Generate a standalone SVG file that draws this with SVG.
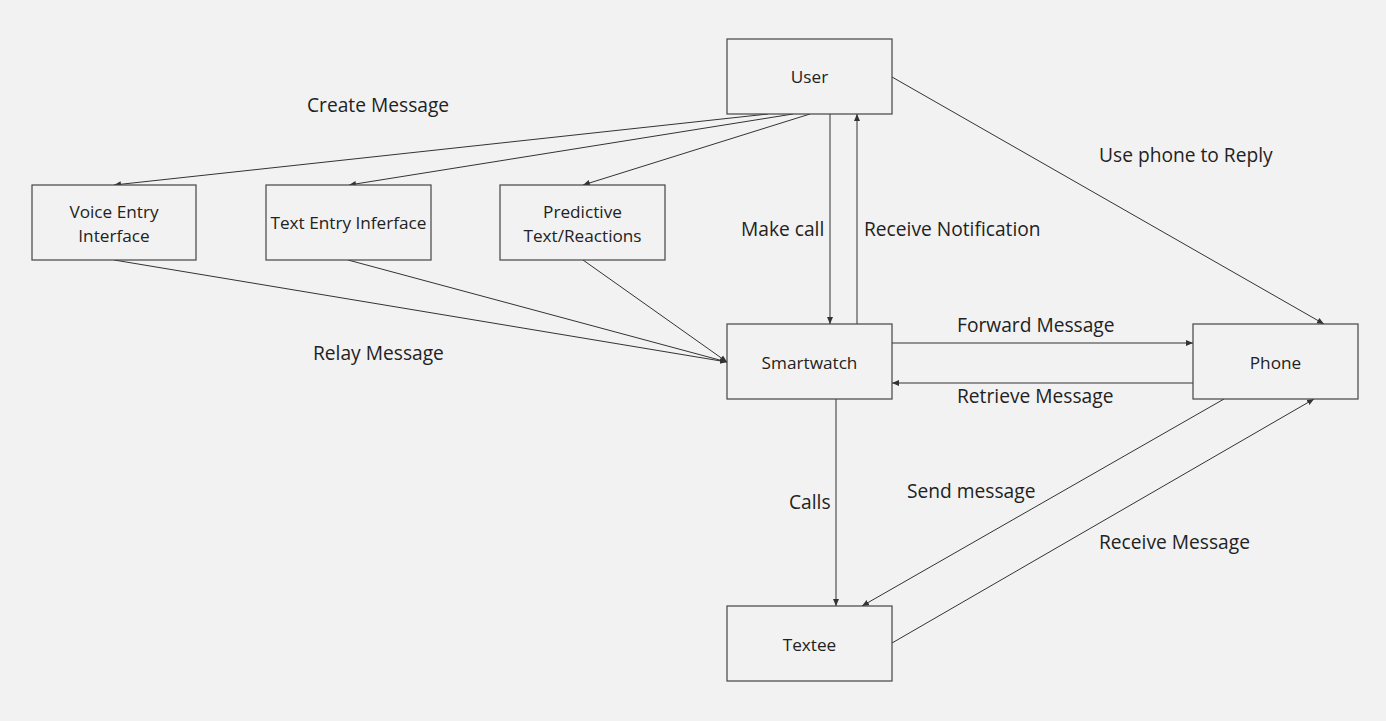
<svg xmlns="http://www.w3.org/2000/svg" width="1386" height="721" viewBox="0 0 1386 721">
<defs>
<marker id="ah" markerWidth="8" markerHeight="8" refX="7" refY="4" orient="auto" markerUnits="userSpaceOnUse">
<path d="M0,1 L7,4 L0,7 Z" fill="#333"/>
</marker>
<style>
.n rect{fill:#f2f2f2;stroke:#444;stroke-width:1.2}
.n text{font-family:"Open Sans","Noto Sans",sans-serif;font-size:17.2px;fill:#222;text-anchor:middle}
.c line{stroke:#333;stroke-width:1;marker-end:url(#ah)}
.l{font-family:"Open Sans","Noto Sans",sans-serif;font-size:19.2px;fill:#222}
</style>
</defs>
<rect width="1386" height="721" fill="#f2f2f2"/>
<g class="c" id="connectors">
<line x1="768" y1="114" x2="114" y2="185"/>
<line x1="793" y1="114" x2="349" y2="185"/>
<line x1="810" y1="114" x2="583" y2="185"/>
<line x1="830" y1="114" x2="830" y2="324"/>
<line x1="857" y1="324" x2="857" y2="114"/>
<line x1="892" y1="77" x2="1324" y2="324"/>
<line x1="114" y1="260" x2="727" y2="362"/>
<line x1="348" y1="260" x2="727" y2="362"/>
<line x1="583" y1="260" x2="727" y2="362"/>
<line x1="892" y1="343" x2="1193" y2="343"/>
<line x1="1193" y1="383" x2="892" y2="383"/>
<line x1="836" y1="399" x2="836" y2="606"/>
<line x1="1224" y1="399" x2="862" y2="606"/>
<line x1="892" y1="643" x2="1314" y2="399"/>
</g>
<g class="n" id="user"><rect x="727" y="39" width="165" height="75"/><text x="809.5" y="83">User</text></g>
<g class="n" id="voice"><rect x="32" y="185" width="164" height="75"/><text x="114" y="218">Voice Entry</text><text x="114" y="242">Interface</text></g>
<g class="n" id="textentry"><rect x="266" y="185" width="165" height="75"/><text x="348.5" y="229">Text Entry Inferface</text></g>
<g class="n" id="predictive"><rect x="500" y="185" width="165" height="75"/><text x="582.5" y="218">Predictive</text><text x="582.5" y="242">Text/Reactions</text></g>
<g class="n" id="smartwatch"><rect x="727" y="324" width="165" height="75"/><text x="809.5" y="369">Smartwatch</text></g>
<g class="n" id="phone"><rect x="1193" y="324" width="165" height="75"/><text x="1275.5" y="369">Phone</text></g>
<g class="n" id="textee"><rect x="727" y="606" width="165" height="75"/><text x="809.5" y="651">Textee</text></g>
<g id="labels">
<text class="l" x="307" y="112">Create Message</text>
<text class="l" x="1099" y="162">Use phone to Reply</text>
<text class="l" x="741" y="236">Make call</text>
<text class="l" x="864" y="236">Receive Notification</text>
<text class="l" x="313" y="360">Relay Message</text>
<text class="l" x="957" y="332">Forward Message</text>
<text class="l" x="957" y="403">Retrieve Message</text>
<text class="l" x="907" y="498">Send message</text>
<text class="l" x="789" y="509">Calls</text>
<text class="l" x="1099" y="549">Receive Message</text>
</g>
</svg>
